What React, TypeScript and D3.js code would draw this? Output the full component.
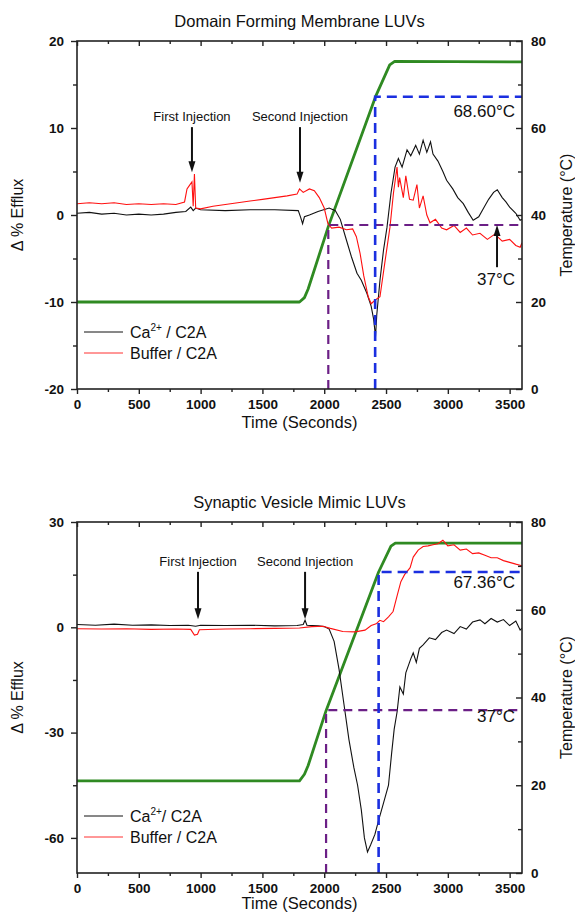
import React, { useEffect, useRef } from "react";
import * as d3 from "d3";

// shared axes
const timeTicks = [0, 500, 1000, 1500, 2000, 2500, 3000, 3500];
const timeMinor = [250, 750, 1250, 1750, 2250, 2750, 3250];
const tempTicks = [0, 20, 40, 60, 80];
const tempMinor = [10, 30, 50, 70];

// --- Domain Forming Membrane LUVs ---
const domainTicks = [-20, -10, 0, 10, 20];
const domainMinor = [-15, -5, 5, 15];

const domainCa = [
  [0, 0.2], [100, 0.3], [200, 0.1], [300, 0.2], [400, 0.0], [500, 0.1], [600, 0.0],
  [700, 0.1], [800, 0.3], [880, 0.4], [920, 0.9], [940, 0.5], [960, 0.8], [1000, 0.6],
  [1200, 0.5], [1400, 0.6], [1600, 0.6], [1790, 0.5], [1810, -0.3], [1825, -1.0],
  [1840, -0.2], [1880, 0.0], [1950, 0.4], [2040, 0.8], [2090, 0.5], [2130, -0.5],
  [2180, -2.9], [2220, -4.8], [2265, -6.7], [2300, -7.5], [2345, -9.0], [2380, -10.5],
  [2400, -12.0], [2415, -14.0], [2425, -11.5], [2451, -7.5], [2480, -4.0], [2508, -1.4],
  [2540, 2.5], [2573, 5.5], [2600, 6.5], [2630, 5.5], [2670, 7.5], [2700, 6.8],
  [2740, 8.0], [2770, 7.0], [2800, 8.6], [2830, 7.2], [2860, 8.4], [2880, 7.0],
  [2920, 6.2], [2960, 5.0], [2990, 4.0], [3040, 3.0], [3080, 2.0], [3125, 1.3],
  [3165, 0.3], [3205, -0.6], [3250, -0.2], [3290, 0.8], [3330, 1.8], [3370, 2.6],
  [3400, 2.9], [3440, 2.0], [3470, 1.5], [3500, 0.9], [3550, 0.2], [3585, -0.6], [3600, -0.5],
];

const domainBuffer = [
  [0, 1.3], [100, 1.4], [200, 1.3], [300, 1.4], [400, 1.2], [500, 1.3], [600, 1.2],
  [700, 1.3], [800, 1.2], [870, 1.5], [890, 3.0], [910, 3.4], [930, 3.8], [940, 1.0],
  [950, 4.7], [960, 0.8], [1000, 0.7], [1100, 1.0], [1200, 1.2], [1300, 1.4], [1400, 1.6],
  [1500, 1.8], [1600, 2.0], [1700, 2.2], [1780, 2.4], [1800, 3.0], [1830, 2.6],
  [1880, 3.0], [1920, 2.8], [1960, 2.0], [2000, 0.8], [2030, -1.0], [2060, -1.5],
  [2120, -1.4], [2180, -1.7], [2230, -1.6], [2260, -2.5], [2290, -4.4], [2320, -7.0],
  [2356, -9.4], [2380, -10.2], [2410, -9.8], [2451, -9.4], [2490, -5.5], [2532, -1.4],
  [2560, 2.5], [2589, 5.5], [2600, 3.2], [2610, 4.3], [2640, 2.0], [2660, 4.5],
  [2690, 1.8], [2720, 1.7], [2750, 3.5], [2770, 0.8], [2800, 2.2], [2830, 0.0],
  [2856, -0.9], [2900, -0.5], [2950, -1.5], [2990, -1.7], [3050, -1.2], [3100, -2.0],
  [3150, -1.5], [3200, -2.3], [3260, -2.1], [3320, -2.8], [3380, -2.2], [3440, -3.0],
  [3500, -2.8], [3550, -3.5], [3585, -3.7], [3600, -3.2],
];

const domainTemp = [
  [0, 20], [1800, 20], [1840, 21], [1870, 23], [2035, 37.5], [2415, 67.2],
  [2530, 74.5], [2570, 75.3], [3600, 75.2],
];

// [time, temperature] where the dashed guide lines meet the ramp
const domainOnset = [2033, 37.7];
const domainMelt = [2412, 67.2];

// --- Synaptic Vesicle Mimic LUVs ---
const synTicks = [-60, -30, 0, 30];
const synMinor = [-45, -15, 15];

const synCa = [
  [0, 0.8], [150, 0.6], [300, 0.9], [450, 0.6], [600, 0.7], [750, 0.5], [900, 0.6],
  [960, 0.3], [1000, 0.6], [1200, 0.5], [1400, 0.6], [1600, 0.4], [1780, 0.5],
  [1830, 0.8], [1845, 2.0], [1860, 0.6], [1950, 0.4], [2000, 0.2], [2040, -0.5],
  [2080, -4], [2120, -12], [2160, -22], [2200, -32], [2240, -40], [2270, -45],
  [2300, -52], [2325, -60], [2350, -64], [2375, -62], [2410, -59], [2440, -55],
  [2480, -50], [2520, -45], [2545, -36], [2566, -29], [2590, -24], [2612, -17],
  [2640, -19], [2660, -13], [2700, -9], [2720, -7.3], [2745, -10], [2770, -6],
  [2800, -5], [2850, -3], [2900, -3.5], [2950, -1.5], [2990, -0.8], [3050, -1.8],
  [3100, 0.2], [3150, -0.5], [3200, 1.5], [3260, 2.1], [3300, 1.0], [3350, 2.5],
  [3400, 1.5], [3450, 2.2], [3500, 0.5], [3550, 1.8], [3585, -0.8], [3600, -0.2],
];

const synBuffer = [
  [0, -0.4], [200, -0.5], [400, -0.4], [600, -0.6], [800, -0.5], [920, -0.6],
  [950, -2.2], [975, -2.0], [990, -0.7], [1200, -0.5], [1400, -0.4], [1600, -0.3],
  [1800, -0.2], [1900, 0.2], [1990, 0.3], [2050, -0.3], [2150, -1.2], [2250, -1.3],
  [2330, -0.8], [2380, 0.5], [2420, 1.0], [2450, 2.0], [2480, 1.6], [2520, 3.0],
  [2557, 4.5], [2590, 9], [2620, 13], [2650, 15], [2695, 17], [2720, 20], [2760, 22],
  [2800, 23], [2840, 23.2], [2880, 23.5], [2920, 23.8], [2960, 24.8], [3000, 23.2],
  [3050, 23.5], [3100, 22], [3150, 22.3], [3200, 21], [3250, 21.2], [3300, 20.5],
  [3350, 19.8], [3400, 19.8], [3450, 19], [3500, 18.5], [3550, 18], [3585, 17.7], [3600, 17.5],
];

const synTemp = [
  [0, 21], [1800, 21], [1840, 22.5], [1870, 24.5], [2015, 37], [2440, 68.6],
  [2540, 74.5], [2575, 75.2], [3600, 75.2],
];

const synOnset = [2015, 37.1];
const synMelt = [2440, 68.6];

const FONT = "'Liberation Sans', Arial, sans-serif";
const LEFT = 77;
const RIGHT = 522;

const panels = [
  {
    title: "Domain Forming Membrane LUVs",
    top: 41,
    bottom: 389,
    efflux: [-20, 20],
    ticks: domainTicks,
    minor: domainMinor,
    ca: domainCa,
    buffer: domainBuffer,
    temp: domainTemp,
    onset: domainOnset,
    melt: domainMelt,
    meltLabel: "68.60°C",
    meltLabelT: 62.5,
    onsetLabelT: 24,
    onsetArrow: [3398, 28],
    injections: [[930, "First Injection", 4.9], [1804, "Second Injection", 3.7]],
    arrowTop: 10.1,
    xLabelGap: 39,
  },
  {
    title: "Synaptic Vesicle Mimic LUVs",
    top: 522,
    bottom: 873,
    efflux: [-70, 30],
    ticks: synTicks,
    minor: synMinor,
    ca: synCa,
    buffer: synBuffer,
    temp: synTemp,
    onset: synOnset,
    melt: synMelt,
    meltLabel: "67.36°C",
    meltLabelT: 64.9,
    onsetLabelT: 34.4,
    onsetArrow: null,
    injections: [[979, "First Injection", 2.3], [1845, "Second Injection", 2.3]],
    arrowTop: 15.8,
    xLabelGap: 36,
  },
];

function drawPanel(svg, p, idx) {
  const x = d3.scaleLinear().domain([0, 3600]).range([LEFT, RIGHT]);
  const y = d3.scaleLinear().domain(p.efflux).range([p.bottom, p.top]);
  const yT = d3.scaleLinear().domain([0, 80]).range([p.bottom, p.top]);

  const g = svg.append("g");

  const clipId = "clip" + idx;
  g.append("clipPath")
    .attr("id", clipId)
    .append("rect")
    .attr("x", LEFT)
    .attr("y", p.top)
    .attr("width", RIGHT - LEFT)
    .attr("height", p.bottom - p.top);

  const plot = g.append("g").attr("clip-path", `url(#${clipId})`);

  const effluxLine = d3.line().x((d) => x(d[0])).y((d) => y(d[1]));
  const tempLine = d3.line().x((d) => x(d[0])).y((d) => yT(d[1]));

  // temperature ramp
  plot.append("path")
    .datum(p.temp)
    .attr("d", tempLine)
    .attr("fill", "none")
    .attr("stroke", "#2f8a22")
    .attr("stroke-width", 2.8)
    .attr("stroke-linejoin", "round");

  plot.append("path")
    .datum(p.ca)
    .attr("d", effluxLine)
    .attr("fill", "none")
    .attr("stroke", "#111")
    .attr("stroke-width", 1.1);

  plot.append("path")
    .datum(p.buffer)
    .attr("d", effluxLine)
    .attr("fill", "none")
    .attr("stroke", "#ff1010")
    .attr("stroke-width", 1.1);

  // dashed guides
  const guide = (pt, color, dash, width) => {
    plot.append("path")
      .attr("d", `M${x(pt[0])},${p.bottom}V${yT(pt[1])}H${RIGHT}`)
      .attr("fill", "none")
      .attr("stroke", color)
      .attr("stroke-width", width)
      .attr("stroke-dasharray", dash);
  };
  guide(p.onset, "#6b1f86", "9,6", 2.2);
  guide(p.melt, "#1b2fe0", "10,6", 2.6);

  // axes
  const fmt = (d) => String(d);
  const labelStyle = (sel) =>
    sel.selectAll("text")
      .attr("font-family", FONT)
      .attr("font-size", 13.5)
      .attr("font-weight", "bold")
      .attr("fill", "#111");
  const clean = (sel) => {
    sel.select(".domain").remove();
    sel.selectAll("line").attr("stroke", "#222").attr("stroke-width", 1.4);
  };

  g.append("g")
    .attr("transform", `translate(0,${p.bottom})`)
    .call(d3.axisBottom(x).tickValues(timeTicks).tickSize(5).tickPadding(5).tickFormat(fmt))
    .call(clean)
    .call(labelStyle);
  g.append("g")
    .attr("transform", `translate(0,${p.bottom})`)
    .call(d3.axisBottom(x).tickValues(timeMinor).tickSize(3).tickFormat(() => ""))
    .call(clean);
  g.append("g")
    .attr("transform", `translate(0,${p.top})`)
    .call(d3.axisTop(x).tickValues(timeTicks).tickSizeInner(-5).tickFormat(() => ""))
    .call(clean);
  g.append("g")
    .attr("transform", `translate(0,${p.top})`)
    .call(d3.axisTop(x).tickValues(timeMinor).tickSizeInner(-3).tickFormat(() => ""))
    .call(clean);

  g.append("g")
    .attr("transform", `translate(${LEFT},0)`)
    .call(d3.axisLeft(y).tickValues(p.ticks).tickSize(6).tickPadding(7).tickFormat(fmt))
    .call(clean)
    .call(labelStyle);
  g.append("g")
    .attr("transform", `translate(${LEFT},0)`)
    .call(d3.axisLeft(y).tickValues(p.minor).tickSize(4).tickFormat(() => ""))
    .call(clean);

  g.append("g")
    .attr("transform", `translate(${RIGHT},0)`)
    .call(d3.axisRight(yT).tickValues(tempTicks).tickSizeInner(-6).tickSizeOuter(0).tickPadding(9).tickFormat(fmt))
    .call(clean)
    .call(labelStyle);
  g.append("g")
    .attr("transform", `translate(${RIGHT},0)`)
    .call(d3.axisRight(yT).tickValues(tempMinor).tickSizeInner(-4).tickFormat(() => ""))
    .call(clean);

  g.append("rect")
    .attr("x", LEFT)
    .attr("y", p.top)
    .attr("width", RIGHT - LEFT)
    .attr("height", p.bottom - p.top)
    .attr("fill", "none")
    .attr("stroke", "#222")
    .attr("stroke-width", 1.6);

  // titles
  const mid = (LEFT + RIGHT) / 2;
  g.append("text")
    .attr("x", mid)
    .attr("y", p.top - 14)
    .attr("text-anchor", "middle")
    .attr("font-family", FONT)
    .attr("font-size", 16.5)
    .attr("fill", "#111")
    .text(p.title);
  g.append("text")
    .attr("x", mid)
    .attr("y", p.bottom + p.xLabelGap)
    .attr("text-anchor", "middle")
    .attr("font-family", FONT)
    .attr("font-size", 16.5)
    .attr("fill", "#111")
    .text("Time (Seconds)");
  const yMid = (p.top + p.bottom) / 2;
  g.append("text")
    .attr("transform", `translate(23,${yMid}) rotate(-90)`)
    .attr("text-anchor", "middle")
    .attr("font-family", FONT)
    .attr("font-size", 16)
    .attr("fill", "#111")
    .text("Δ % Efflux");
  g.append("text")
    .attr("transform", `translate(572,${yMid}) rotate(-90)`)
    .attr("text-anchor", "middle")
    .attr("font-family", FONT)
    .attr("font-size", 16)
    .attr("fill", "#111")
    .text("Temperature (°C)");

  // temperature labels
  g.append("text")
    .attr("x", 515)
    .attr("y", yT(p.meltLabelT))
    .attr("text-anchor", "end")
    .attr("font-family", FONT)
    .attr("font-size", 17)
    .attr("fill", "#111")
    .text(p.meltLabel);
  g.append("text")
    .attr("x", 515)
    .attr("y", yT(p.onsetLabelT))
    .attr("text-anchor", "end")
    .attr("font-family", FONT)
    .attr("font-size", 17)
    .attr("fill", "#111")
    .text("37°C");

  // arrows
  const arrow = (x0, y0, y1) => {
    const dir = y1 > y0 ? 1 : -1;
    g.append("line")
      .attr("x1", x0).attr("x2", x0)
      .attr("y1", y0).attr("y2", y1 - dir * 9)
      .attr("stroke", "#111")
      .attr("stroke-width", 2);
    g.append("path")
      .attr("d", `M${x0 - 3.5},${y1 - dir * 11}L${x0 + 3.5},${y1 - dir * 11}L${x0},${y1}Z`)
      .attr("fill", "#111");
  };

  p.injections.forEach(([t, label, tip]) => {
    const ax = x(t);
    const top = y(p.arrowTop);
    arrow(ax, top, y(tip));
    g.append("text")
      .attr("x", ax)
      .attr("y", top - 6)
      .attr("text-anchor", "middle")
      .attr("font-family", FONT)
      .attr("font-size", 13)
      .attr("fill", "#111")
      .text(label);
  });

  if (p.onsetArrow) {
    arrow(x(p.onsetArrow[0]), yT(p.onsetArrow[1]), yT(p.onset[1]));
  }

  // legend
  const legendY = p.bottom - 57;
  [["#111", true], ["#ff3030", false]].forEach(([color, isCa], i) => {
    const ly = legendY + i * 21;
    g.append("line")
      .attr("x1", 84).attr("x2", 123)
      .attr("y1", ly).attr("y2", ly)
      .attr("stroke", color)
      .attr("stroke-width", 1);
    const t = g.append("text")
      .attr("x", 130)
      .attr("y", ly + 6)
      .attr("font-family", FONT)
      .attr("font-size", 16)
      .attr("fill", "#111");
    if (isCa) {
      t.append("tspan").text("Ca");
      t.append("tspan").attr("dy", -7).attr("font-size", 10).text("2+");
      t.append("tspan").attr("dy", 7).text(idx === 0 ? " / C2A" : "/ C2A");
    } else {
      t.text("Buffer / C2A");
    }
  });
}

const App = () => {
  const svgRef = useRef(null);

  useEffect(() => {
    const svg = d3.select(svgRef.current);
    svg.selectAll("*").remove();
    panels.forEach((p, i) => drawPanel(svg, p, i));
  }, []);

  return (
    <svg
      ref={svgRef}
      width={575}
      height={915}
      style={{ position: "absolute", left: 0, top: 0, background: "#fff" }}
    />
  );
};

export default App;
